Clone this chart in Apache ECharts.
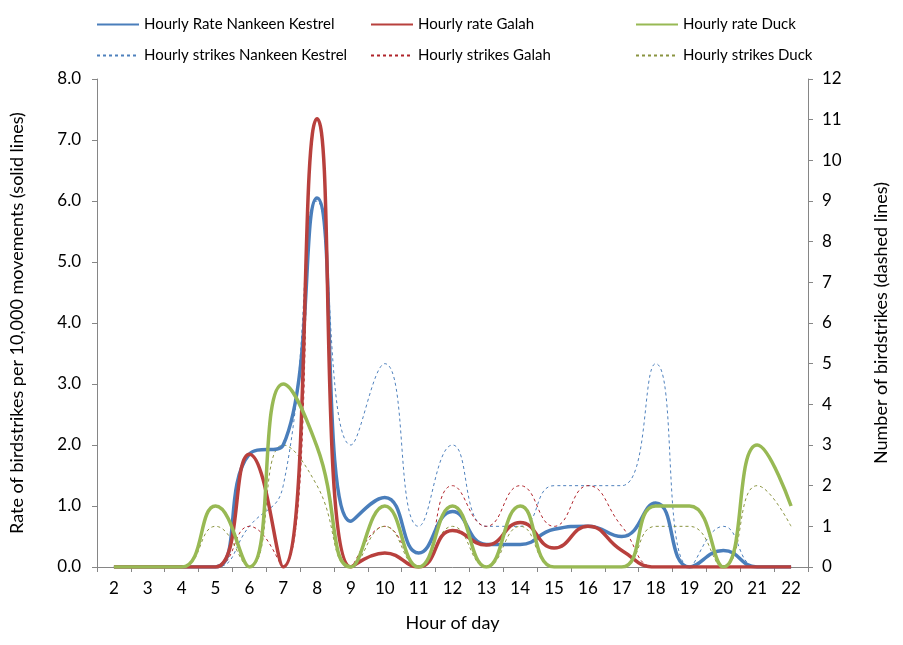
<!DOCTYPE html>
<html>
<head>
<meta charset="utf-8">
<script src="https://cdn.jsdelivr.net/npm/echarts@6/dist/echarts.min.js"></script>
<style>
  html, body { margin: 0; padding: 0; background: #fff; }
  #chart { width: 903px; height: 645px; }
</style>
</head>
<body>
<div id="chart"></div>
<script>
// hours on the x axis
const hours = ['2', '3', '4', '5', '6', '7', '8', '9', '10', '11', '12', '13', '14', '15', '16', '17', '18', '19', '20', '21', '22'];

// rate per 10,000 movements (left axis, solid lines)
const rateKestrel = [0, 0, 0, 0, 1.85, 2.0, 6.05, 0.75, 1.14, 0.23, 0.91, 0.37, 0.37, 0.62, 0.67, 0.5, 1.05, 0, 0.27, 0, 0];
const rateGalah = [0, 0, 0, 0, 1.85, 0, 7.35, 0, 0.23, 0, 0.6, 0.36, 0.73, 0.31, 0.67, 0.27, 0, 0, 0, 0, 0];
const rateDuck = [0, 0, 0, 1, 0, 3.0, 1.97, 0, 1, 0, 1, 0, 1, 0, 0, 0, 1, 1, 0, 2, 1];

// number of strikes (right axis, dashed lines)
const strikesKestrel = [0, 0, 0, 0, 1, 2, 9, 3, 5, 1, 3, 1, 1, 2, 2, 2, 5, 0, 1, 0, 0];
const strikesGalah = [0, 0, 0, 0, 1, 0, 11, 0, 1, 0, 2, 1, 2, 1, 2, 1, 0, 0, 0, 0, 0];
const strikesDuck = [0, 0, 0, 1, 0, 3, 2, 0, 1, 0, 1, 0, 1, 0, 0, 0, 1, 1, 0, 2, 1];

const BLUE = '#4A7EBB';
const RED = '#B8403D';
const GREEN = '#98B954';
const BLUE_DASH = '#4F81BD';
const RED_DASH = '#B0242B';
const GREEN_DASH = '#8A9440';
const FONT = 'Lato';

const chart = echarts.init(document.getElementById('chart'));

function solid(name, data, color) {
  return {
    name: name,
    type: 'line',
    yAxisIndex: 0,
    data: data,
    smooth: 0.5,
    symbol: 'none',
    z: 3,
    lineStyle: { color: color, width: 3.5 },
    itemStyle: { color: color },
  };
}

function dashed(name, data, color) {
  return {
    name: name,
    type: 'line',
    yAxisIndex: 1,
    data: data,
    smooth: 0.5,
    symbol: 'none',
    z: 2,
    lineStyle: { color: color, width: 1, type: [3, 3] },
    itemStyle: { color: color },
  };
}

function legendAt(left, names) {
  return {
    orient: 'vertical',
    left: left,
    top: 17,
    padding: 0,
    itemWidth: 42,
    itemHeight: 14,
    itemGap: 16,
    itemStyle: { opacity: 0 },
    data: names,
    textStyle: { fontFamily: FONT, fontSize: 15, color: '#000' },
  };
}

const axisLine = { show: true, lineStyle: { color: '#868686', width: 1 } };
const tickLabel = { fontFamily: FONT, fontSize: 17, color: '#000' };
const axisName = { fontFamily: FONT, fontSize: 18, color: '#000' };

const option = {
  backgroundColor: '#fff',
  animation: false,
  grid: { left: 96, right: 95, top: 79, bottom: 78, containLabel: false },
  legend: [
    legendAt(96, ['Hourly Rate Nankeen Kestrel', 'Hourly strikes Nankeen Kestrel']),
    legendAt(370, ['Hourly rate Galah', 'Hourly strikes Galah']),
    legendAt(635, ['Hourly rate Duck', 'Hourly strikes Duck']),
  ],
  xAxis: {
    type: 'category',
    data: hours,
    boundaryGap: true,
    name: 'Hour of day',
    nameLocation: 'middle',
    nameGap: 47,
    nameTextStyle: axisName,
    axisLine: axisLine,
    axisTick: { show: true, length: 5, lineStyle: { color: '#868686' } },
    axisLabel: Object.assign({ margin: 13 }, tickLabel),
    splitLine: { show: false },
  },
  yAxis: [
    {
      type: 'value',
      min: 0,
      max: 8,
      interval: 1,
      name: 'Rate of birdstrikes per 10,000 movements (solid lines)',
      nameLocation: 'middle',
      nameRotate: 90,
      nameGap: 71,
      nameTextStyle: axisName,
      axisLine: axisLine,
      axisTick: { show: true, length: 5, lineStyle: { color: '#868686' } },
      axisLabel: Object.assign({ margin: 16, formatter: v => v.toFixed(1) }, tickLabel),
      splitLine: { show: false },
    },
    {
      type: 'value',
      min: 0,
      max: 12,
      interval: 1,
      position: 'right',
      name: 'Number of birdstrikes (dashed lines)',
      nameLocation: 'middle',
      nameRotate: 90,
      nameGap: 64,
      nameTextStyle: axisName,
      axisLine: axisLine,
      axisTick: { show: true, length: 5, lineStyle: { color: '#868686' } },
      axisLabel: Object.assign({ margin: 14 }, tickLabel),
      splitLine: { show: false },
    },
  ],
  series: [
    dashed('Hourly strikes Nankeen Kestrel', strikesKestrel, BLUE_DASH),
    dashed('Hourly strikes Galah', strikesGalah, RED_DASH),
    dashed('Hourly strikes Duck', strikesDuck, GREEN_DASH),
    solid('Hourly Rate Nankeen Kestrel', rateKestrel, BLUE),
    solid('Hourly rate Galah', rateGalah, RED),
    solid('Hourly rate Duck', rateDuck, GREEN),
  ],
};

chart.setOption(option);
</script>
</body>
</html>
